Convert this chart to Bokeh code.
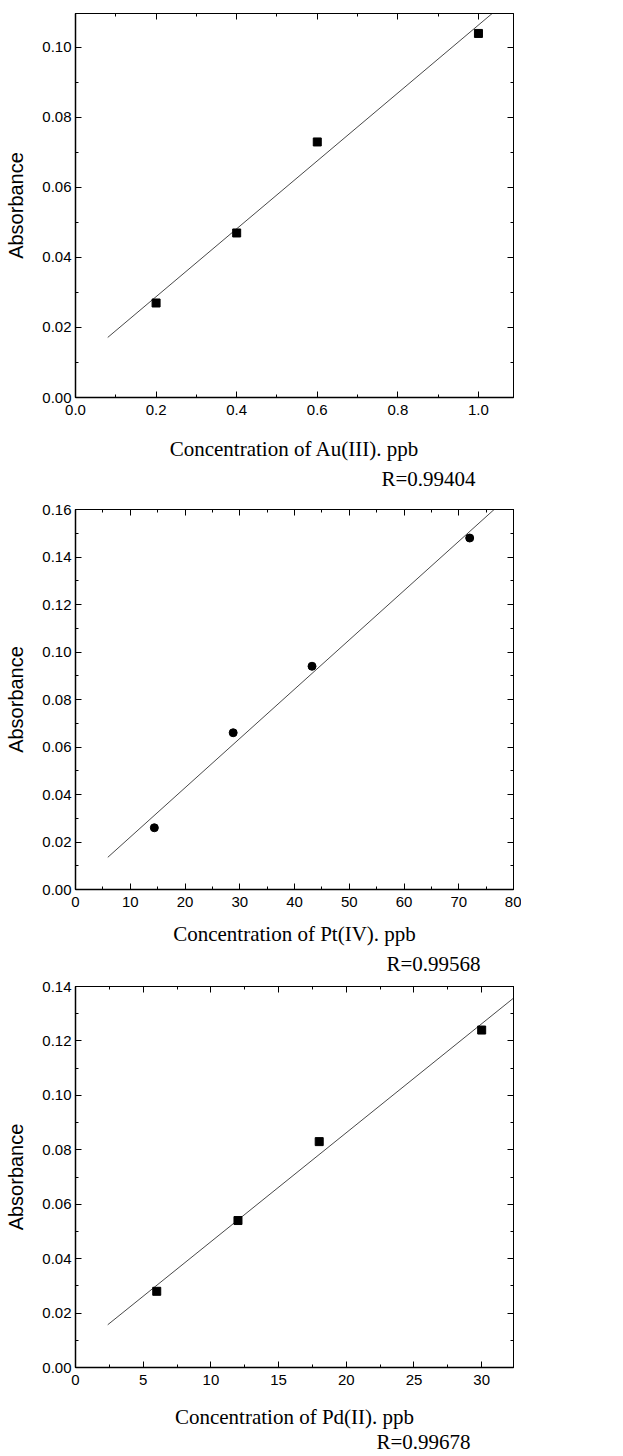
import numpy as np
from bokeh.plotting import figure
from bokeh.layouts import column
from bokeh.models import (LinearAxis, SingleIntervalTicker, NumeralTickFormatter,
                          CustomJSTickFormatter, Range1d, Title)
from bokeh.embed import file_html
from bokeh.resources import INLINE

# ---- data ----
au_conc = [0.2, 0.4, 0.6, 1.0]
au_abs = [0.027, 0.047, 0.073, 0.104]

pt_conc = [14.4, 28.8, 43.2, 72.0]
pt_abs = [0.026, 0.066, 0.094, 0.148]

pd_conc = [6.0, 12.0, 18.0, 30.0]
pd_abs = [0.028, 0.054, 0.083, 0.124]

x_titles = ["Concentration of Au(III). ppb",
            "Concentration of Pt(IV). ppb",
            "Concentration of Pd(II). ppb"]
r_labels = ["R=0.99404", "R=0.99568", "R=0.99678"]
fit_x_start = [0.08, 5.9, 2.38]
fit_x_end = [1.2, 90.0, 36.0]

SANS = "Liberation Sans"
SERIF = "Liberation Serif"


def make_panel(xs, ys, marker, xmax, ymax, xstep, ystep, xfmt, xtitle, rtext,
               fx0, fx1, frame_h, top, bottom, xl_standoff, r_standoff, r_offset):
    fw = 438
    p = figure(frame_width=fw, frame_height=frame_h,
               min_border_left=75, min_border_right=8,
               min_border_top=top, min_border_bottom=bottom,
               x_range=Range1d(0, xmax), y_range=Range1d(0, ymax),
               x_axis_type=None, y_axis_type=None,
               output_backend="svg", toolbar_location=None)
    p.outline_line_color = "black"
    p.outline_line_width = 1
    p.background_fill_color = "white"
    p.border_fill_color = "white"

    def axis(step, fmt, label=None, show=True, width=1.5):
        ax = LinearAxis(ticker=SingleIntervalTicker(interval=step, num_minor_ticks=2))
        if show:
            ax.formatter = NumeralTickFormatter(format=fmt)
            ax.major_label_text_font = SANS
            ax.major_label_text_font_size = "15px"
            ax.major_label_text_color = "black"
        else:
            ax.formatter = CustomJSTickFormatter(code="return ''")
            ax.major_label_standoff = 0
        ax.major_tick_in = 6
        ax.major_tick_out = 0
        ax.minor_tick_in = 3
        ax.minor_tick_out = 0
        ax.axis_line_color = "black"
        ax.axis_line_width = width
        ax.major_tick_line_color = "black"
        ax.minor_tick_line_color = "black"
        if label is not None:
            ax.axis_label = label
        return ax

    xb = axis(xstep, xfmt, label=xtitle)
    xb.major_label_standoff = 7
    xb.axis_label_text_font = SERIF
    xb.axis_label_text_font_size = "21px"
    xb.axis_label_text_font_style = "normal"
    xb.axis_label_text_color = "black"
    xb.axis_label_standoff = xl_standoff
    p.add_layout(xb, "below")

    yl = axis(ystep, "0.00", label="Absorbance")
    yl.major_label_standoff = 4
    yl.axis_label_text_font = SANS
    yl.axis_label_text_font_size = "20px"
    yl.axis_label_text_font_style = "normal"
    yl.axis_label_text_color = "black"
    yl.axis_label_standoff = 12
    p.add_layout(yl, "left")

    p.add_layout(axis(xstep, xfmt, show=False, width=1), "above")
    p.add_layout(axis(ystep, "0.00", show=False, width=1), "right")

    # linear fit line from the data
    k, b = np.polyfit(xs, ys, 1)
    lx = [fx0, fx1]
    ly = [k * fx0 + b, k * fx1 + b]
    p.line(lx, ly, line_color="#333333", line_width=0.9)

    p.scatter(xs, ys, marker=marker, size=8, fill_color="black", line_color="black")

    p.add_layout(Title(text=rtext, align="left", offset=r_offset, standoff=r_standoff,
                       text_font=SERIF, text_font_size="21px",
                       text_font_style="normal", text_color="black"), "below")
    return p


p1 = make_panel(au_conc, au_abs, "square", 1.087, 0.1097, 0.2, 0.02, "0.0",
                x_titles[0], r_labels[0], fit_x_start[0], fit_x_end[0],
                384, 13, 103, 19, 2, 306)
p2 = make_panel(pt_conc, pt_abs, "circle", 80, 0.16, 10, 0.02, "0",
                x_titles[1], r_labels[1], fit_x_start[1], fit_x_end[1],
                380, 9, 88, 12, 2, 311)
p3 = make_panel(pd_conc, pd_abs, "square", 32.35, 0.14, 5, 0.02, "0",
                x_titles[2], r_labels[2], fit_x_start[2], fit_x_end[2],
                381, 9, 87, 17, -8, 301)

layout = column(p1, p2, p3, spacing=0)
open("out.html", "w").write(file_html(layout, INLINE))
